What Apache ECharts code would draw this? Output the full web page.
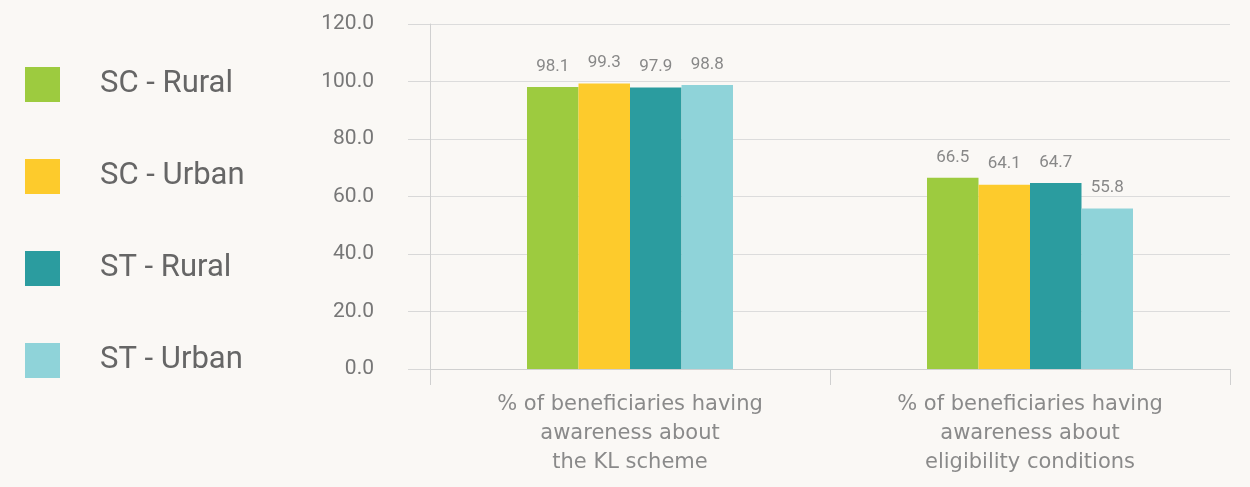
<!DOCTYPE html>
<html>
<head>
<meta charset="utf-8">
<script src="https://cdn.jsdelivr.net/npm/echarts@6/dist/echarts.min.js"></script>
<style>
  html, body { margin: 0; padding: 0; background: #faf8f5; }
  #chart { width: 1250px; height: 487px; }
</style>
</head>
<body>
<div id="chart"></div>
<script>
// Awareness indicators, per social group and area (%)
const categories = [
  '% of beneficiaries having\nawareness about\nthe KL scheme',
  '% of beneficiaries having\nawareness about\neligibility conditions'
];
const seriesNames = ['SC - Rural', 'SC - Urban', 'ST - Rural', 'ST - Urban'];
const scRural = [98.1, 66.5];
const scUrban = [99.3, 64.1];
const stRural = [97.9, 64.7];
const stUrban = [98.8, 55.8];
const colors = ['#9dcb3f', '#fdcb2c', '#2b9c9f', '#8fd3d9'];
const yTicks = [0, 20, 40, 60, 80, 100, 120];

const values = [scRural, scUrban, stRural, stUrban];
const chart = echarts.init(document.getElementById('chart'), null, { renderer: 'canvas' });

chart.setOption({
  backgroundColor: '#faf8f5',
  animation: false,
  legend: {
    orient: 'vertical',
    left: 25,
    top: 67,
    padding: 0,
    itemWidth: 35,
    itemHeight: 35,
    itemGap: 57,
    icon: 'rect',
    data: seriesNames,
    textStyle: {
      fontFamily: 'Roboto',
      fontSize: 31,
      color: '#666666',
      padding: [0, 0, 0, 35]
    }
  },
  grid: { left: 430, right: 20, top: 24, bottom: 118, containLabel: false },
  xAxis: {
    type: 'category',
    data: categories,
    axisLine: { show: true, lineStyle: { color: '#d0d0d0', width: 1 } },
    axisTick: { show: true, length: 16, lineStyle: { color: '#d0d0d0' } },
    axisLabel: {
      margin: 21,
      fontFamily: 'DejaVu Sans',
      fontSize: 21,
      lineHeight: 29,
      color: '#8a8a8a'
    }
  },
  yAxis: {
    type: 'value',
    min: yTicks[0],
    max: yTicks[yTicks.length - 1],
    interval: 20,
    axisLine: { show: true, lineStyle: { color: '#d0d0d0', width: 1 } },
    axisTick: { show: true, length: 22, lineStyle: { color: '#d8d8d8' } },
    splitLine: { show: true, lineStyle: { color: '#dcdcdc', width: 1 } },
    axisLabel: {
      margin: 56,
      fontFamily: 'Roboto',
      fontSize: 21,
      color: '#777777',
      formatter: v => v.toFixed(1)
    }
  },
  series: seriesNames.map((name, i) => ({
    name,
    type: 'bar',
    data: values[i],
    barGap: '0%',
    barCategoryGap: '48.5%',
    itemStyle: { color: colors[i] },
    label: {
      show: true,
      position: 'top',
      distance: 12,
      fontFamily: 'Roboto',
      fontSize: 17,
      color: '#888888',
      formatter: p => p.value.toFixed(1)
    }
  }))
});
</script>
</body>
</html>
